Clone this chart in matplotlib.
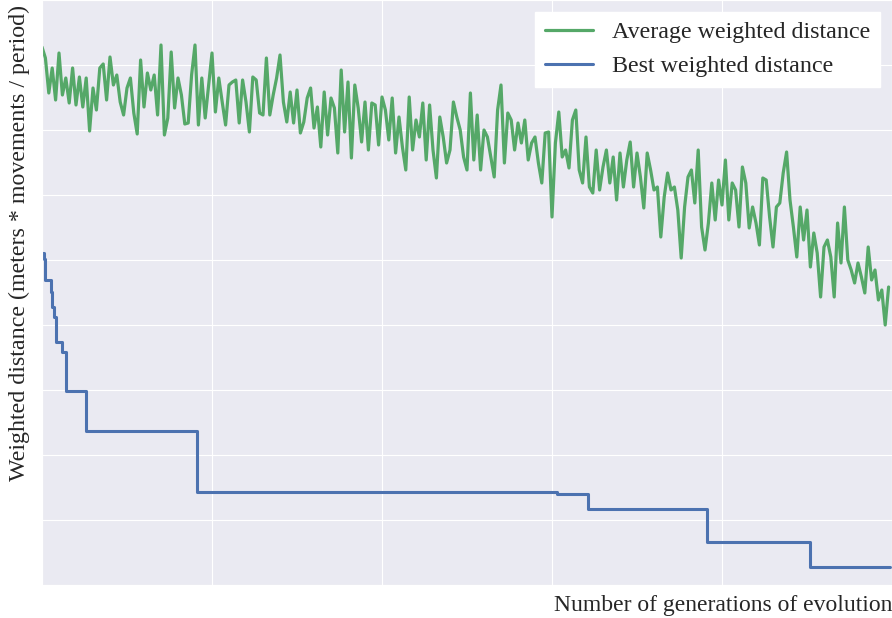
import matplotlib
matplotlib.use("Agg")
import matplotlib.pyplot as plt
import seaborn as sns
from matplotlib.ticker import MultipleLocator

sns.set_style("darkgrid")
plt.rcParams['font.family'] = ['serif']
plt.rcParams['font.serif'] = ['Liberation Serif', 'DejaVu Serif']

# average weighted distance, read every 2 generations
avg_gen = list(range(0, 500, 2))
avg_dist = [
    538, 527, 492, 517, 485, 532, 490, 507, 482, 517,
    480, 508, 478, 507, 454, 497, 475, 517, 521, 485,
    528, 500, 510, 483, 470, 497, 507, 472, 451, 525,
    478, 512, 495, 510, 470, 540, 450, 467, 533, 477,
    507, 490, 461, 462, 510, 540, 460, 507, 467, 500,
    532, 473, 507, 483, 460, 500, 503, 505, 462, 505,
    483, 453, 508, 505, 472, 470, 527, 470, 490, 507,
    530, 483, 463, 493, 462, 495, 452, 463, 487, 497,
    457, 478, 438, 493, 450, 487, 477, 432, 515, 453,
    503, 427, 500, 477, 443, 483, 435, 482, 480, 440,
    488, 475, 445, 487, 432, 468, 438, 415, 488, 435,
    465, 448, 482, 425, 480, 435, 407, 468, 448, 422,
    435, 483, 468, 455, 428, 415, 492, 425, 470, 415,
    455, 448, 428, 408, 475, 500, 422, 472, 465, 435,
    462, 442, 465, 425, 442, 448, 422, 402, 452, 453,
    368, 442, 473, 428, 435, 417, 465, 475, 415, 402,
    448, 398, 392, 435, 395, 418, 435, 402, 428, 385,
    432, 398, 425, 443, 398, 432, 408, 377, 432, 415,
    395, 398, 348, 388, 412, 395, 398, 375, 327, 378,
    408, 415, 382, 435, 358, 335, 362, 402, 365, 405,
    380, 425, 365, 402, 395, 358, 418, 402, 357, 378,
    362, 340, 407, 405, 368, 338, 378, 382, 412, 433,
    385, 358, 328, 378, 345, 375, 318, 352, 332, 288,
    338, 345, 328, 288, 362, 322, 378, 325, 315, 302,
    322, 308, 292, 338, 305, 315, 285, 295, 260, 298,
]

# best weighted distance (step changes)
best_gen = [0, 1, 2, 5, 6, 7, 8, 12, 14, 26, 91, 303, 321, 391, 452, 499]
best_dist = [332, 326, 305, 293, 278, 268, 243, 233, 194, 154, 93, 91, 76, 43, 18, 18]

fig = plt.figure(figsize=(8.92, 6.18), dpi=100)
ax = fig.add_axes([42 / 892, 33 / 618, 850 / 892, 585 / 618])

ax.plot(avg_gen, avg_dist, color='#55A868', lw=2.3, label="Average weighted distance")
ax.plot(best_gen, best_dist, color='#4C72B0', lw=2.2, drawstyle='steps-post',
        label="Best weighted distance")

ax.set_xlim(0, 500)
ax.set_ylim(0, 585)
ax.xaxis.set_major_locator(MultipleLocator(100))
ax.yaxis.set_major_locator(MultipleLocator(65))
ax.set_xticklabels([])
ax.set_yticklabels([])
ax.tick_params(length=0)

ax.set_xlabel("Number of generations of evolution", fontsize=17, loc='right', labelpad=4)
ax.set_ylabel("Weighted distance (meters * movements / period)", fontsize=17.3)
ax.yaxis.set_label_coords(-0.014, 0.585)

leg = ax.legend(loc='upper right', fontsize=17.3, frameon=True, facecolor='white',
                edgecolor='white', framealpha=1, fancybox=False)

fig.savefig("out.png", dpi=100)
